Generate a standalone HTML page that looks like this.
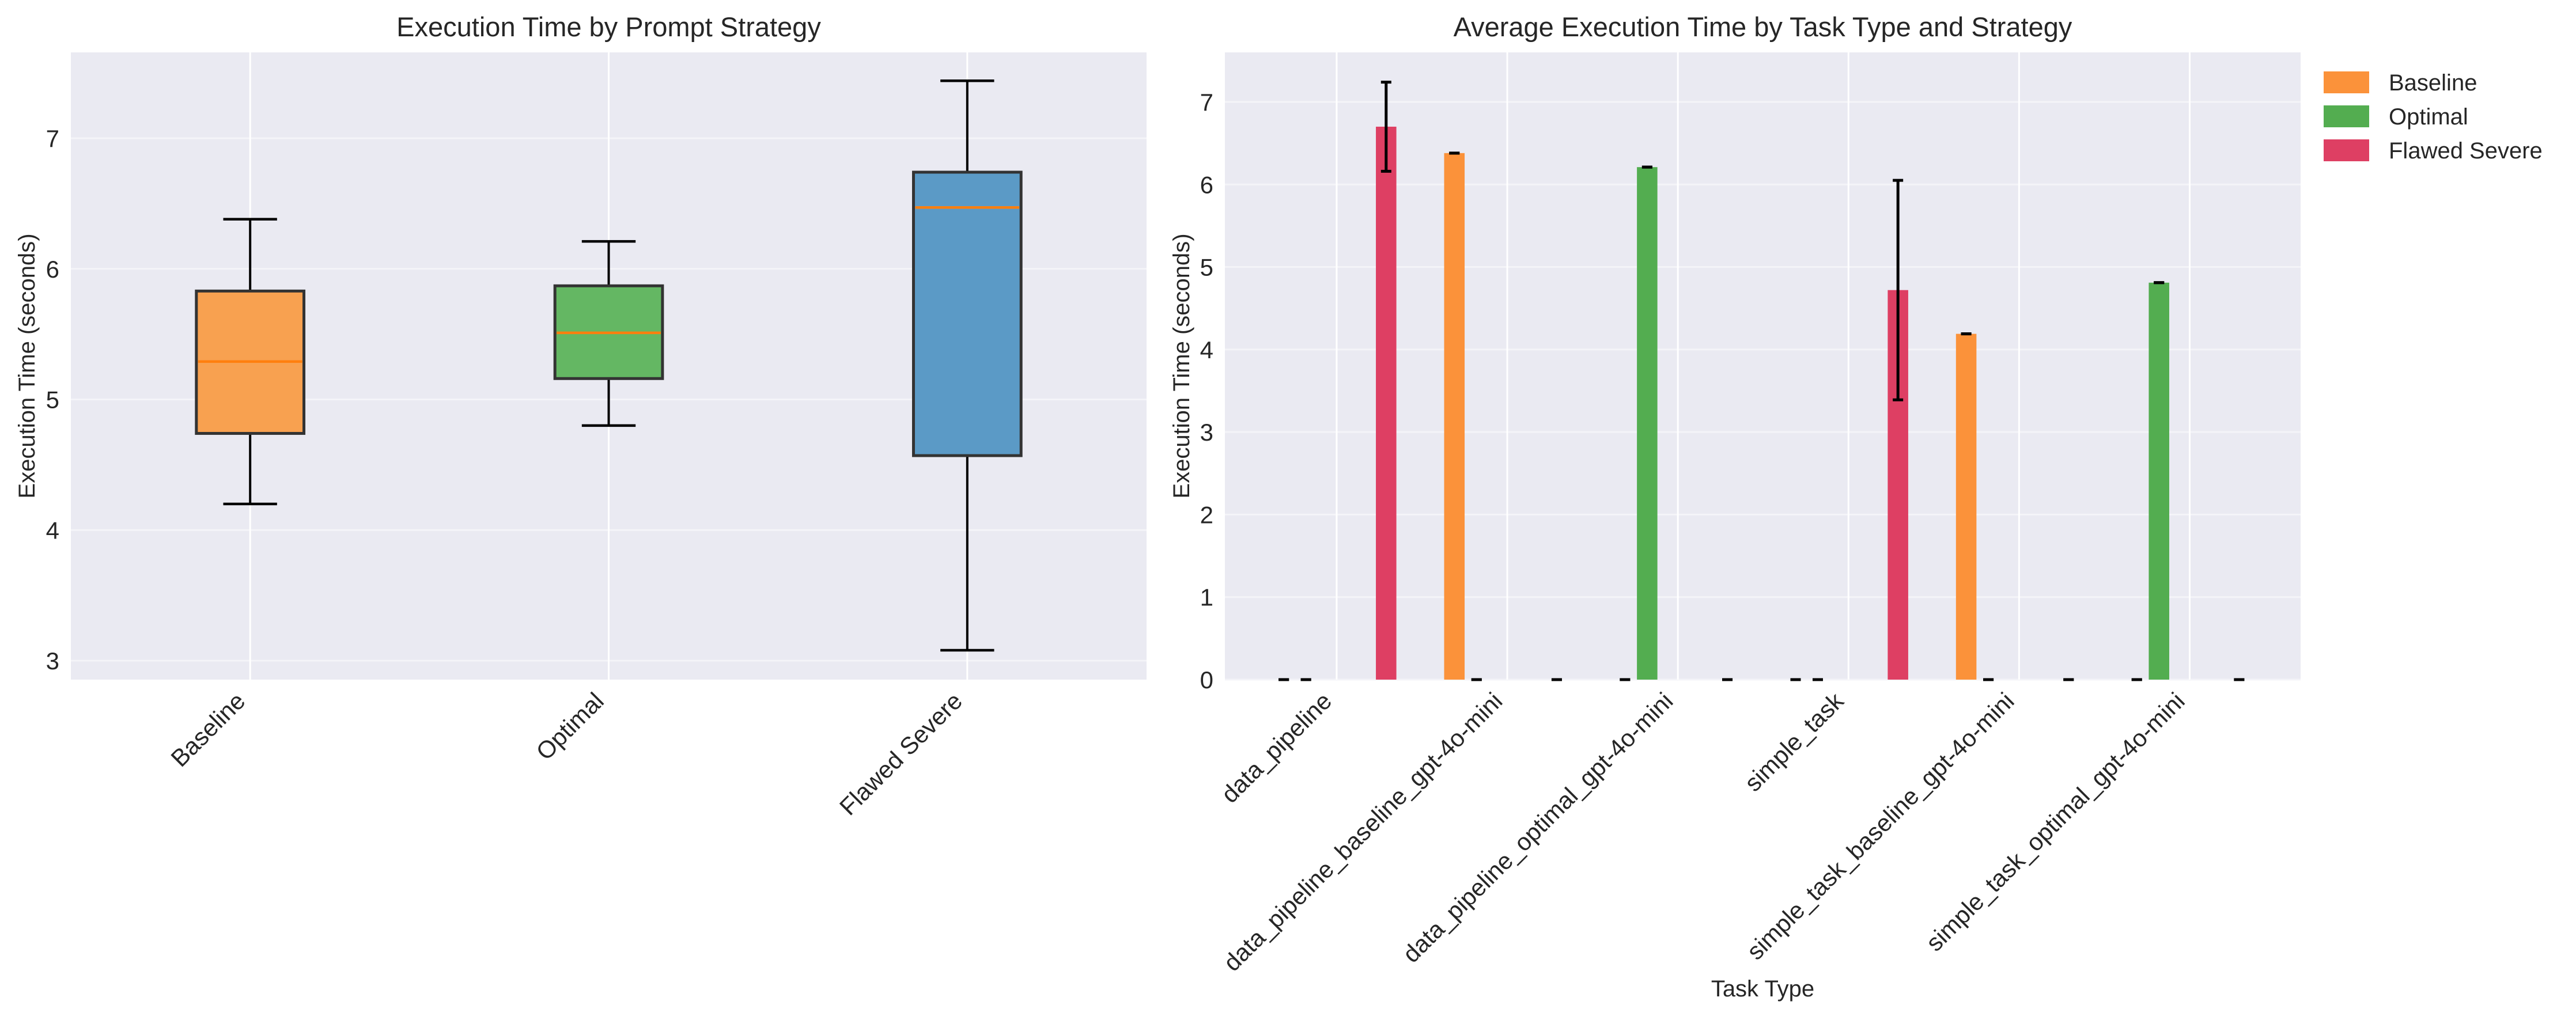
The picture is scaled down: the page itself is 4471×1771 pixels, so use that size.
<!DOCTYPE html>
<html><head><meta charset="utf-8"><style>
html,body{margin:0;padding:0;background:#fff;}
svg{display:block;font-family:"Liberation Sans",Arial,sans-serif;}
</style></head><body>
<svg id="fig" width="4471" height="1771" viewBox="0 0 4471 1771" xmlns="http://www.w3.org/2000/svg">
<g id="left"></g>
<g id="right"></g>
</svg>
<script>
// ---- Left chart data ----
const boxCategories = ["Baseline", "Optimal", "Flawed Severe"];
const boxWhiskerLow = [4.20, 4.80, 3.08];
const boxQ1 = [4.74, 5.16, 4.57];
const boxMedian = [5.29, 5.51, 6.47];
const boxQ3 = [5.83, 5.87, 6.74];
const boxWhiskerHigh = [6.38, 6.21, 7.44];
const boxColors = ["#f8a150", "#64b763", "#5b9ac6"];
const leftYTicks = [3, 4, 5, 6, 7];

// ---- Right chart data ----
const barCategories = ["data_pipeline", "data_pipeline_baseline_gpt-4o-mini", "data_pipeline_optimal_gpt-4o-mini", "simple_task", "simple_task_baseline_gpt-4o-mini", "simple_task_optimal_gpt-4o-mini"];
const strategies = ["Baseline", "Optimal", "Flawed Severe"];
const strategyColors = ["#fb923a", "#53ad50", "#de3f63"];
const strategyOffsets = [0.69, 0.82, 0.29];
// slots correspond to category index -1..5
const slotIndex = [-1, 0, 1, 2, 3, 4, 5];
const baselineValues = [0, 6.38, 0, 0, 4.19, 0, 0];
const optimalValues = [0, 0, 6.21, 0, 0, 4.81, 0];
const flawedValues = [0, 6.70, 0, 0, 4.72, 0, 0];
const baselineErr = [0, 0, 0, 0, 0, 0, 0];
const optimalErr = [0, 0, 0, 0, 0, 0, 0];
const flawedErr = [0, 0.54, 0, 0, 1.33, 0, 0];
const rightYTicks = [0, 1, 2, 3, 4, 5, 6, 7];

const NS = "http://www.w3.org/2000/svg";
function mk(parent, tag, attrs, text) {
  const e = document.createElementNS(NS, tag);
  for (const k in attrs) e.setAttribute(k, attrs[k]);
  if (text !== undefined) e.textContent = text;
  parent.appendChild(e);
  return e;
}

// ===== LEFT =====
(function(){
  const g = document.getElementById('left');
  const L = 123, R = 1990, T = 91, B = 1180;
  const yMin = 2.855, yMax = 7.657;
  const y = v => B - (v - yMin) / (yMax - yMin) * (B - T);
  const x = i => L + (i + 0.5) / boxCategories.length * (R - L);
  const bg = mk(g, 'rect', {x: L, y: T, width: R - L, height: B - T, fill: '#eaeaf2'});
  
  
  leftYTicks.forEach(t => {
    const gl = mk(g, 'line', {x1: L, x2: R, y1: y(t), y2: y(t), stroke: '#f4f4f8', 'stroke-width': 3});
    
    
    const tl = mk(g, 'text', {x: L - 20, y: y(t) + 15, 'text-anchor': 'end', 'font-size': 42, fill: '#262626'}, String(t));
    
    
  });
  boxCategories.forEach((c, i) => {
    const gl = mk(g, 'line', {x1: x(i), x2: x(i), y1: T, y2: B, stroke: '#ffffff', 'stroke-width': 3});
    
    
  });
  const bw = 0.3 / boxCategories.length * (R - L) * 1.0;
  boxCategories.forEach((c, i) => {
    const cx = x(i);
    const grp = mk(g, 'g', {});
    
    
    mk(grp, 'line', {x1: cx, x2: cx, y1: y(boxWhiskerLow[i]), y2: y(boxQ1[i]), stroke: '#000', 'stroke-width': 4});
    mk(grp, 'line', {x1: cx, x2: cx, y1: y(boxQ3[i]), y2: y(boxWhiskerHigh[i]), stroke: '#000', 'stroke-width': 4});
    mk(grp, 'line', {x1: cx - bw / 4, x2: cx + bw / 4, y1: y(boxWhiskerLow[i]), y2: y(boxWhiskerLow[i]), stroke: '#000', 'stroke-width': 4.5});
    mk(grp, 'line', {x1: cx - bw / 4, x2: cx + bw / 4, y1: y(boxWhiskerHigh[i]), y2: y(boxWhiskerHigh[i]), stroke: '#000', 'stroke-width': 4.5});
    mk(grp, 'rect', {x: cx - bw / 2, y: y(boxQ3[i]), width: bw, height: y(boxQ1[i]) - y(boxQ3[i]), fill: boxColors[i], stroke: '#333', 'stroke-width': 5});
    mk(grp, 'line', {x1: cx - bw / 2 + 3, x2: cx + bw / 2 - 3, y1: y(boxMedian[i]), y2: y(boxMedian[i]), stroke: '#ff7f0e', 'stroke-width': 4.5});
    const lx = cx - 6, ly = B + 40;
    const tl = mk(g, 'text', {x: lx, y: ly, 'text-anchor': 'end', 'font-size': 42, fill: '#262626', transform: `rotate(-45 ${lx} ${ly})`}, c);
    
    
  });
  const t = mk(g, 'text', {x: (L + R) / 2, y: 63, 'text-anchor': 'middle', 'font-size': 47, fill: '#262626'}, 'Execution Time by Prompt Strategy');
  
  
  const yl = mk(g, 'text', {x: 60, y: (T + B) / 2, 'text-anchor': 'middle', 'font-size': 40, fill: '#262626', transform: `rotate(-90 60 ${(T + B) / 2})`}, 'Execution Time (seconds)');
  
  
})();

// ===== RIGHT =====
(function(){
  const g = document.getElementById('right');
  const L = 2126, R = 3993, T = 91, B = 1180;
  const xMin = -0.655, xMax = 5.65;
  const yMin = 0, yMax = 7.6;
  const x = v => L + (v - xMin) / (xMax - xMin) * (R - L);
  const y = v => B - (v - yMin) / (yMax - yMin) * (B - T);
  const clip = mk(g, 'clipPath', {id: 'rclip'});
  mk(clip, 'rect', {x: L, y: 0, width: R - L, height: B + 10});
  const bg = mk(g, 'rect', {x: L, y: T, width: R - L, height: B - T, fill: '#eaeaf2'});
  
  
  rightYTicks.forEach(t => {
    const gl = mk(g, 'line', {x1: L, x2: R, y1: y(t), y2: y(t), stroke: '#f4f4f8', 'stroke-width': 3});
    
    
    const tl = mk(g, 'text', {x: L - 20, y: y(t) + 15, 'text-anchor': 'end', 'font-size': 42, fill: '#262626'}, String(t));
    
    
  });
  barCategories.forEach((c, i) => {
    const gl = mk(g, 'line', {x1: x(i), x2: x(i), y1: T, y2: B, stroke: '#ffffff', 'stroke-width': 3});
    
    
    const lx = x(i) - 6, ly = B + 40;
    const tl = mk(g, 'text', {x: lx, y: ly, 'text-anchor': 'end', 'font-size': 42, fill: '#262626', transform: `rotate(-45 ${lx} ${ly})`}, c);
    
    
  });
  const barsG = mk(g, 'g', {'clip-path': 'url(#rclip)'});
  
  
  const series = [baselineValues, optimalValues, flawedValues];
  const errs = [baselineErr, optimalErr, flawedErr];
  const barW = 0.12;
  strategies.forEach((s, k) => {
    slotIndex.forEach((ci, j) => {
      const v = series[k][j], e = errs[k][j];
      const cx = x(ci + strategyOffsets[k]);
      const w = x(barW) - x(0);
      if (v > 0) {
        const r = mk(barsG, 'rect', {x: cx - w / 2, y: y(v), width: w, height: y(0) - y(v), fill: strategyColors[k]});
        
        
      }
      const eg = mk(barsG, 'g', {});
      
      
      const cw = 9;
      if (e > 0) mk(eg, 'line', {x1: cx, x2: cx, y1: y(v - e), y2: y(v + e), stroke: '#000', 'stroke-width': 5});
      mk(eg, 'line', {x1: cx - cw, x2: cx + cw, y1: y(v + e), y2: y(v + e), stroke: '#000', 'stroke-width': 5});
      mk(eg, 'line', {x1: cx - cw, x2: cx + cw, y1: y(v - e), y2: y(v - e), stroke: '#000', 'stroke-width': 5});
    });
  });
  const t = mk(g, 'text', {x: (L + R) / 2, y: 63, 'text-anchor': 'middle', 'font-size': 47, fill: '#262626'}, 'Average Execution Time by Task Type and Strategy');
  
  
  const yl = mk(g, 'text', {x: 2064, y: (T + B) / 2, 'text-anchor': 'middle', 'font-size': 40, fill: '#262626', transform: `rotate(-90 2064 ${(T + B) / 2})`}, 'Execution Time (seconds)');
  
  
  const xl = mk(g, 'text', {x: (L + R) / 2, y: 1730, 'text-anchor': 'middle', 'font-size': 40, fill: '#262626'}, 'Task Type');
  
  
  const lg = mk(g, 'g', {});
  
  
  strategies.forEach((s, k) => {
    const ly = 143 + k * 59;
    const ent = mk(lg, 'g', {});
    
    
    mk(ent, 'rect', {x: 4033, y: ly - 19, width: 79, height: 38, fill: strategyColors[k]});
    mk(ent, 'text', {x: 4146, y: ly + 14, 'font-size': 40, fill: '#262626'}, s);
  });
})();
</script>
</body></html>
